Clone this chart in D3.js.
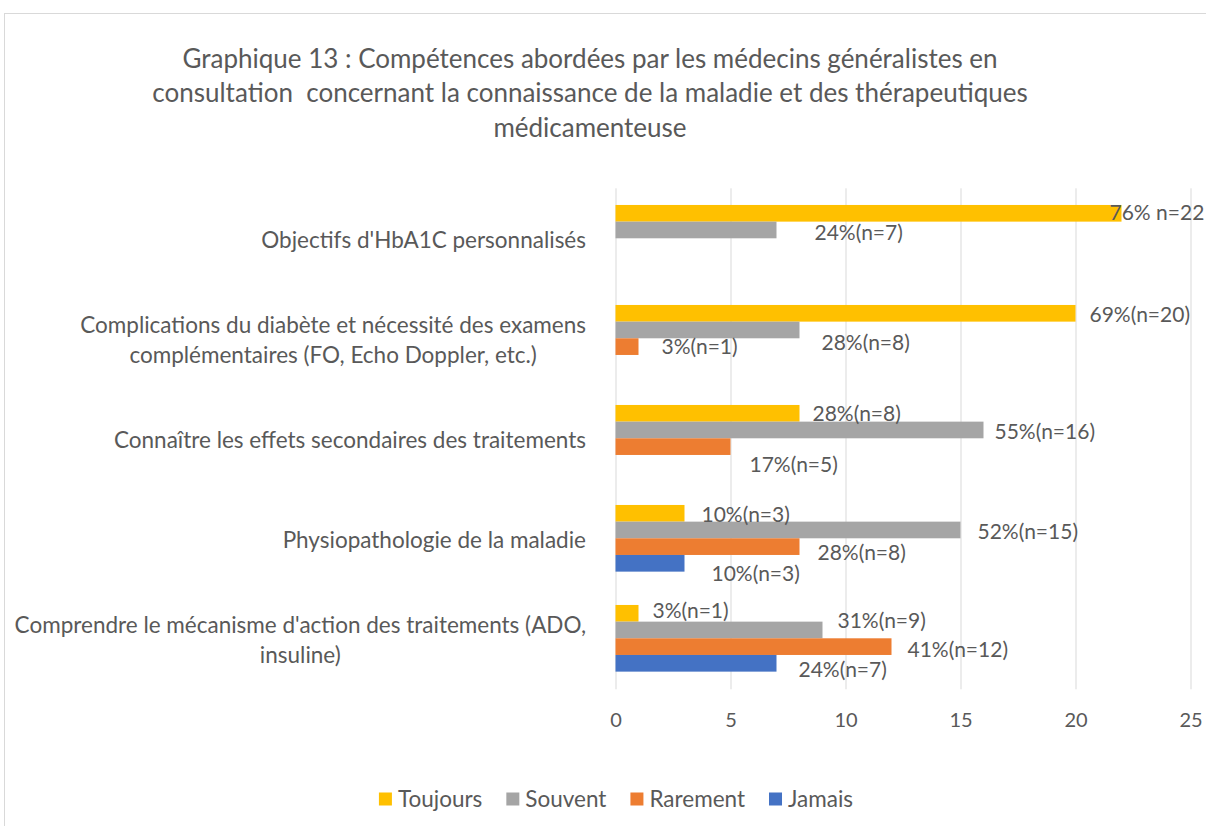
<!DOCTYPE html>
<html>
<head>
<meta charset="utf-8">
<script src="https://cdn.jsdelivr.net/npm/d3@7"></script>
<style>
  body { margin: 0; background: #fff; }
  text { font-family: "Lato", sans-serif; fill: #595959; }
</style>
</head>
<body>
<div id="chart"></div>
<script>
// categories, top to bottom (\n = where the label wraps)
var categories = [
  "Objectifs d'HbA1C personnalisés",
  "Complications du diabète et nécessité des examens\ncomplémentaires (FO, Echo Doppler, etc.)",
  "Connaître les effets secondaires des traitements",
  "Physiopathologie de la maladie",
  "Comprendre le mécanisme d'action des traitements (ADO,\ninsuline)"
];
var series = ["Toujours", "Souvent", "Rarement", "Jamais"];

var toujours = [22, 20, 8, 3, 1];
var souvent  = [7, 8, 16, 15, 9];
var rarement = [0, 1, 5, 8, 12];
var jamais   = [0, 0, 0, 3, 7];

var labelsToujours = ["76% n=22", "69%(n=20)", "28%(n=8)", "10%(n=3)", "3%(n=1)"];
var labelsSouvent  = ["24%(n=7)", "28%(n=8)", "55%(n=16)", "52%(n=15)", "31%(n=9)"];
var labelsRarement = ["", "3%(n=1)", "17%(n=5)", "28%(n=8)", "41%(n=12)"];
var labelsJamais   = ["", "", "", "10%(n=3)", "24%(n=7)"];

var xTicks = [0, 5, 10, 15, 20, 25];

var titleLines = [
  "Graphique 13 : Compétences abordées par les médecins généralistes en",
  "consultation  concernant la connaissance de la maladie et des thérapeutiques",
  "médicamenteuse"
];

// hand-placed label offsets (as in the original), px from bar end / bar centre
var nudgeDx = [
  [-12, 14, 13, 17, 14],
  [38, 22, 11, 17, 15],
  [0, 23, 19, 18, 16],
  [0, 0, 0, 27, 22]
];
var nudgeDy = [
  [-1, 1.5, 0, 1, -2.5],
  [3, 13, 2, 2, -9.5],
  [0, 0, 18, 5.5, 3],
  [0, 0, 0, 10.5, 6.5]
];

var colors = ["#FFC000", "#A5A5A5", "#ED7D31", "#4472C4"];
var values = [toujours, souvent, rarement, jamais];
var labels = [labelsToujours, labelsSouvent, labelsRarement, labelsJamais];

var W = 1206, H = 826;
var svg = d3.select("#chart").append("svg")
    .attr("width", W)
    .attr("height", H);

// chart frame
svg.append("rect")
  .attr("x", 4.5).attr("y", 13.5)
  .attr("width", 1230).attr("height", 840)
  .attr("fill", "#fff")
  .attr("stroke", "#d9d9d9");

var plotTop = 188.3, plotBottom = 688.3;

var x = d3.scaleLinear()
  .domain([0, 25])
  .range([615.5, 1190.5]);

var y = d3.scaleBand()
  .domain(categories)
  .range([plotTop, plotBottom])
  .paddingInner(1/3)
  .paddingOuter(1/6);

var ySub = d3.scaleBand()
  .domain(series)
  .range([0, y.bandwidth()]);

// gridlines + tick labels
var xAxis = svg.append("g")
  .attr("transform", "translate(0," + (plotBottom + 1) + ")")
  .call(d3.axisBottom(x).tickValues(xTicks).tickSize(-(plotBottom + 1 - plotTop)).tickPadding(24));
xAxis.select(".domain").remove();
xAxis.selectAll(".tick line").attr("stroke", "#d9d9d9");
xAxis.selectAll(".tick text")
  .style("font-family", "Lato, sans-serif")
  .style("font-size", "20px")
  .attr("fill", "#595959");

// bars
series.forEach(function (s, si) {
  svg.append("g").selectAll("rect")
    .data(categories)
    .join("rect")
      .attr("x", x(0))
      .attr("y", function (c) { return y(c) + ySub(s); })
      .attr("width", function (c, i) { return x(values[si][i]) - x(0); })
      .attr("height", ySub.bandwidth())
      .attr("fill", colors[si]);
});

// value labels
series.forEach(function (s, si) {
  svg.append("g").selectAll("text")
    .data(categories)
    .join("text")
      .attr("x", function (c, i) { return x(values[si][i]) + nudgeDx[si][i]; })
      .attr("y", function (c, i) { return y(c) + ySub(s) + ySub.bandwidth() / 2 + nudgeDy[si][i] + 7.5; })
      .style("font-size", "21px")
      .text(function (c, i) { return labels[si][i]; });
});

// category labels
var catG = svg.append("g");
categories.forEach(function (c) {
  var lines = c.split("\n");
  var cy = y(c) + y.bandwidth() / 2 + 2;
  var g = catG.append("g");
  var t = g.selectAll("text")
    .data(lines)
    .join("text")
      .attr("y", function (d, i) { return cy + (i - (lines.length - 1) / 2) * 30 + 7.5; })
      .style("font-size", "22.5px")
      .text(function (d) { return d; });
  var widest = d3.max(t.nodes(), function (n) { return n.getComputedTextLength(); });
  t.attr("x", 586 - widest / 2).attr("text-anchor", "middle");
});

// title
svg.append("g").selectAll("text")
  .data(titleLines)
  .join("text")
    .attr("x", 590)
    .attr("y", function (d, i) { return 68 + i * 34.3; })
    .attr("text-anchor", "middle")
    .style("font-size", "26px")
    .style("white-space", "pre")
    .text(function (d) { return d; });

// legend
var legend = svg.append("g");
var lx = 0;
series.forEach(function (s, si) {
  var item = legend.append("g").attr("transform", "translate(" + lx + ",0)");
  item.append("rect")
    .attr("x", 0).attr("y", -6.5)
    .attr("width", 13).attr("height", 13)
    .attr("fill", colors[si]);
  var t = item.append("text")
    .attr("x", 19).attr("y", 7.5)
    .style("font-size", "22.5px")
    .text(s);
  lx += 19 + t.node().getComputedTextLength() + 24;
});
lx -= 24;
legend.attr("transform", "translate(" + (616 - lx / 2) + ",799)");
</script>
</body>
</html>
